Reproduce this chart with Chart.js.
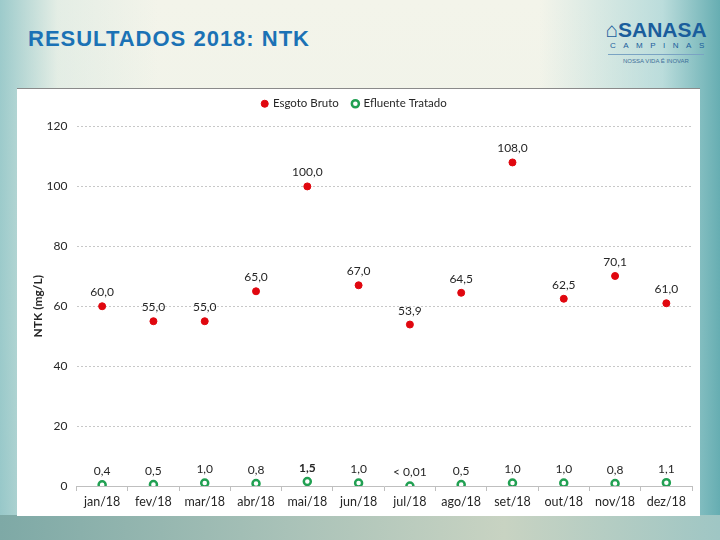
<!DOCTYPE html>
<html>
<head>
<meta charset="utf-8">
<script src="https://cdn.jsdelivr.net/npm/chart.js@4.4.1/dist/chart.umd.min.js"></script>
<style>
  html, body { margin: 0; padding: 0; }
  body {
    width: 720px; height: 540px; position: relative; overflow: hidden;
    font-family: "Liberation Sans", Arial, sans-serif;
    background:
      linear-gradient(90deg, rgba(120,185,190,0.7) 0%, rgba(200,225,220,0.35) 8%, rgba(245,245,235,0) 22%, rgba(245,245,235,0) 75%, rgba(150,205,210,0.6) 92%, rgba(95,170,175,0.95) 100%),
      linear-gradient(180deg, #f3f4ea 0%, #eef2e8 60%, #dfe9e2 100%);
  }
  #title {
    position: absolute; left: 28px; top: 26px;
    font-size: 22px; font-weight: bold; color: #1b72b5; letter-spacing: 1px;
  }
  #logo { position: absolute; left: 602px; top: 19px; width: 108px; text-align: center; color: #1a5d9c; }
  #logo .name { font-size: 21px; font-weight: bold; line-height: 22px; }
  #logo .city { font-size: 8px; letter-spacing: 7.5px; line-height: 10px; margin-left: 8px; }
  #logo .motto { font-size: 6px; color: #3d6e99; border-top: 1px solid #7aa3c3; margin: 3px 6px 0; padding-top: 3px; }
  #bottom {
    position: absolute; left: 0; top: 515px; width: 720px; height: 25px;
    background: linear-gradient(90deg, #7ea9a6 0%, #a9c2b8 40%, #c8d3c2 70%, #9fc6c4 100%);
  }
  #chartBox {
    position: absolute; left: 17px; top: 88px; width: 683px; height: 427px;
    background: #ffffff; border-top: 1px solid #8a8a8a;
  }
</style>
</head>
<body>
<div id="title">RESULTADOS 2018: NTK</div>
<div id="logo">
  <div class="name">&#8962;SANASA</div>
  <div class="city">CAMPINAS</div>
  <div class="motto">NOSSA VIDA É INOVAR</div>
</div>
<div id="bottom"></div>
<div id="chartBox"><canvas id="ntkChart" width="683" height="426"></canvas></div>

<script>
// Dados
const months = ["jan/18", "fev/18", "mar/18", "abr/18", "mai/18", "jun/18",
  "jul/18", "ago/18", "set/18", "out/18", "nov/18", "dez/18"];
const esgotoBruto = [60.0, 55.0, 55.0, 65.0, 100.0, 67.0, 53.9, 64.5, 108.0, 62.5, 70.1, 61.0];
const efluenteTratado = [0.4, 0.5, 1.0, 0.8, 1.5, 1.0, 0.0, 0.5, 1.0, 1.0, 0.8, 1.1];
const esgotoLabels = ["60,0", "55,0", "55,0", "65,0", "100,0", "67,0", "53,9", "64,5", "108,0", "62,5", "70,1", "61,0"];
const efluenteLabels = ["0,4", "0,5", "1,0", "0,8", "1,5", "1,0", "< 0,01", "0,5", "1,0", "1,0", "0,8", "1,1"];
const yTicks = [0, 20, 40, 60, 80, 100, 120];

const FONT = "Lato, 'Open Sans', sans-serif";

document.addEventListener("DOMContentLoaded", function () {
  const ctx = document.getElementById("ntkChart").getContext("2d");

  // espaço extra abaixo da legenda
  const legendGap = {
    id: "legendGap",
    beforeInit(chart) {
      const fit = chart.legend.fit;
      chart.legend.fit = function () {
        fit.bind(chart.legend)();
        this.height += 7;
      };
    },
  };

  // rótulos de valor acima de cada ponto
  const valueLabels = {
    id: "valueLabels",
    afterDatasetsDraw(chart) {
      const c = chart.ctx;
      c.save();
      c.textAlign = "center";
      c.textBaseline = "alphabetic";
      c.fillStyle = "#262626";
      chart.data.datasets.forEach((ds, i) => {
        const meta = chart.getDatasetMeta(i);
        meta.data.forEach((pt, j) => {
          const bold = i === 1 && j === 4;
          c.font = (bold ? "bold " : "") + "12px " + FONT;
          c.fillText(ds.valueLabels[j], pt.x, pt.y - 10);
        });
      });
      c.restore();
    },
  };

  new Chart(ctx, {
    type: "line",
    data: {
      labels: months,
      datasets: [
        {
          label: "Esgoto Bruto",
          data: esgotoBruto,
          valueLabels: esgotoLabels,
          showLine: false,
          pointStyle: "circle",
          pointRadius: 3.5,
          pointBackgroundColor: "#e0070f",
          pointBorderColor: "#e0070f",
          backgroundColor: "#e0070f",
          borderColor: "#e0070f",
          pointBorderWidth: 1,
        },
        {
          label: "Efluente Tratado",
          data: efluenteTratado,
          valueLabels: efluenteLabels,
          showLine: false,
          pointStyle: "circle",
          pointRadius: 3.5,
          pointBackgroundColor: "#ffffff",
          pointBorderColor: "#21a052",
          backgroundColor: "#ffffff",
          borderColor: "#21a052",
          borderWidth: 2.5,
          pointBorderWidth: 2.5,
        },
      ],
    },
    options: {
      responsive: false,
      animation: false,
      layout: { padding: { top: -5, right: 8, left: 0, bottom: 0 } },
      plugins: {
        legend: {
          position: "top",
          labels: {
            usePointStyle: true,
            boxWidth: 5,
            boxHeight: 5,
            padding: 14,
            color: "#262626",
            font: { family: FONT, size: 11.5 },
          },
        },
        tooltip: { enabled: false },
      },
      scales: {
        x: {
          offset: true,
          grid: {
            display: true,
            offset: true,
            drawOnChartArea: false,
            drawTicks: true,
            tickLength: 5,
            color: "#bfbfbf",
          },
          border: { display: true, color: "#bfbfbf" },
          ticks: { color: "#262626", font: { family: FONT, size: 12.5 }, padding: 3 },
          afterFit: (s) => { s.height = 29; },
        },
        y: {
          min: 0,
          max: 120,
          afterBuildTicks: (s) => { s.ticks = yTicks.map((v) => ({ value: v })); },
          grid: { color: "#c8c8c8", drawTicks: false },
          border: { display: false, dash: [2, 2] },
          ticks: { color: "#262626", font: { family: FONT, size: 12 }, padding: 9 },
          title: {
            display: true,
            text: "NTK (mg/L)",
            color: "#262626",
            font: { family: FONT, size: 12, weight: "bold" },
            padding: { top: 14, bottom: 4 },
          },
          afterFit: (s) => { s.width = 59.5; },
        },
      },
    },
    plugins: [legendGap, valueLabels],
  });
});
</script>
</body>
</html>
